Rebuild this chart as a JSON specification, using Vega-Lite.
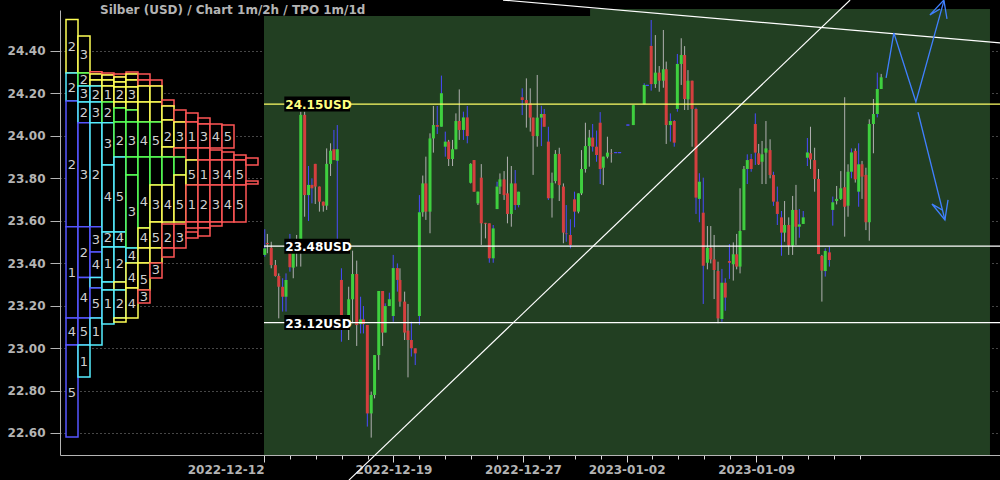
{
"$schema": "https://vega.github.io/schema/vega-lite/v6.json",
"width": 940, "height": 445,
"autosize": {"type": "none"},
"padding": {"left": 60, "top": 10, "right": 0, "bottom": 25},
"background": "black",
"config": {"view": {"stroke": null}},
"title": {"text": "Silber (USD) /  Chart 1m/2h / TPO 1m/1d", "anchor": "start", "frame": "group", "font": "DejaVu Sans", "fontSize": 12, "fontWeight": "bold", "color": "#b4b4b4", "dx": 40, "offset": -21, "zindex": 1},
"datasets": {
"candles": [
{"t":0.03,"o":23.439,"h":23.56,"l":23.431,"c":23.47,"w":"b"},
{"t":0.13,"o":23.495,"h":23.538,"l":23.447,"c":23.49,"w":"g"},
{"t":0.28,"o":23.473,"h":23.501,"l":23.376,"c":23.391,"w":"g"},
{"t":0.44,"o":23.391,"h":23.415,"l":23.337,"c":23.34,"w":"g"},
{"t":0.57,"o":23.34,"h":23.352,"l":23.14,"c":23.289,"w":"g"},
{"t":0.72,"o":23.289,"h":23.329,"l":23.172,"c":23.242,"w":"b"},
{"t":0.85,"o":23.242,"h":23.352,"l":23.172,"c":23.321,"w":"b"},
{"t":1.0,"o":23.45,"h":23.538,"l":23.36,"c":23.381,"w":"b"},
{"t":1.13,"o":23.379,"h":23.501,"l":23.329,"c":23.45,"w":"g"},
{"t":1.26,"o":23.455,"h":23.533,"l":23.384,"c":23.45,"w":"g"},
{"t":1.42,"o":23.509,"h":24.114,"l":23.384,"c":24.099,"w":"g"},
{"t":1.57,"o":24.099,"h":24.114,"l":23.619,"c":23.721,"w":"g"},
{"t":1.72,"o":23.721,"h":23.858,"l":23.599,"c":23.769,"w":"b"},
{"t":1.85,"o":23.769,"h":23.8,"l":23.682,"c":23.753,"w":"b"},
{"t":1.98,"o":23.868,"h":23.868,"l":23.679,"c":23.761,"w":"g"},
{"t":2.14,"o":23.761,"h":23.761,"l":23.643,"c":23.69,"w":"g"},
{"t":2.29,"o":23.69,"h":23.69,"l":23.643,"c":23.671,"w":"g"},
{"t":2.42,"o":23.671,"h":23.941,"l":23.651,"c":23.868,"w":"g"},
{"t":2.57,"o":23.868,"h":23.965,"l":23.811,"c":23.93,"w":"g"},
{"t":2.7,"o":23.937,"h":24.028,"l":23.886,"c":23.886,"w":"b"},
{"t":2.83,"o":23.883,"h":24.051,"l":23.509,"c":23.937,"w":"b"},
{"t":2.99,"o":23.321,"h":23.376,"l":23.03,"c":23.117,"w":"b"},
{"t":3.27,"o":23.117,"h":23.289,"l":23.038,"c":23.23,"w":"g"},
{"t":3.42,"o":23.23,"h":23.459,"l":23.117,"c":23.349,"w":"g"},
{"t":3.58,"o":23.349,"h":23.412,"l":23.01,"c":23.109,"w":"g"},
{"t":3.73,"o":23.113,"h":23.242,"l":23.069,"c":23.135,"w":"b"},
{"t":3.84,"o":23.135,"h":23.198,"l":23.069,"c":23.113,"w":"b"},
{"t":3.99,"o":23.109,"h":23.109,"l":22.63,"c":22.692,"w":"b"},
{"t":4.14,"o":22.692,"h":22.795,"l":22.578,"c":22.779,"w":"g"},
{"t":4.27,"o":22.779,"h":22.967,"l":22.763,"c":22.967,"w":"g"},
{"t":4.43,"o":22.967,"h":23.269,"l":22.897,"c":23.269,"w":"g"},
{"t":4.58,"o":23.269,"h":23.269,"l":23.01,"c":23.073,"w":"g"},
{"t":4.68,"o":23.073,"h":23.211,"l":23.073,"c":23.198,"w":"b"},
{"t":4.84,"o":23.198,"h":23.261,"l":23.198,"c":23.23,"w":"b"},
{"t":4.99,"o":23.151,"h":23.439,"l":23.124,"c":23.377,"w":"b"},
{"t":5.15,"o":23.377,"h":23.399,"l":23.266,"c":23.321,"w":"b"},
{"t":5.25,"o":23.321,"h":23.376,"l":23.195,"c":23.219,"w":"g"},
{"t":5.43,"o":23.219,"h":23.266,"l":23.038,"c":23.073,"w":"g"},
{"t":5.56,"o":23.082,"h":23.208,"l":22.862,"c":23.038,"w":"g"},
{"t":5.69,"o":23.038,"h":23.124,"l":22.96,"c":22.999,"w":"b"},
{"t":5.84,"o":22.999,"h":22.999,"l":22.92,"c":22.975,"w":"b"},
{"t":6.0,"o":23.151,"h":23.721,"l":23.109,"c":23.64,"w":"b"},
{"t":6.13,"o":23.64,"h":23.813,"l":23.619,"c":23.776,"w":"g"},
{"t":6.25,"o":23.776,"h":23.902,"l":23.604,"c":23.643,"w":"g"},
{"t":6.41,"o":23.643,"h":24.012,"l":23.541,"c":23.988,"w":"g"},
{"t":6.54,"o":23.988,"h":24.141,"l":23.921,"c":24.051,"w":"g"},
{"t":6.69,"o":24.051,"h":24.141,"l":24.009,"c":24.043,"w":"b"},
{"t":6.85,"o":24.043,"h":24.284,"l":24.043,"c":24.201,"w":"b"},
{"t":7.0,"o":23.949,"h":24.02,"l":23.902,"c":23.973,"w":"b"},
{"t":7.13,"o":23.973,"h":23.981,"l":23.858,"c":23.891,"w":"g"},
{"t":7.28,"o":23.891,"h":23.981,"l":23.858,"c":23.937,"w":"g"},
{"t":7.41,"o":23.937,"h":24.106,"l":23.937,"c":24.07,"w":"g"},
{"t":7.54,"o":24.07,"h":24.219,"l":23.981,"c":24.028,"w":"g"},
{"t":7.7,"o":24.028,"h":24.114,"l":23.981,"c":24.087,"w":"b"},
{"t":7.85,"o":24.087,"h":24.141,"l":23.965,"c":23.999,"w":"b"},
{"t":7.98,"o":23.779,"h":23.871,"l":23.776,"c":23.868,"w":"g"},
{"t":8.11,"o":23.886,"h":23.886,"l":23.737,"c":23.737,"w":"g"},
{"t":8.26,"o":23.682,"h":23.737,"l":23.674,"c":23.737,"w":"g"},
{"t":8.39,"o":23.803,"h":23.867,"l":23.486,"c":23.588,"w":"g"},
{"t":8.55,"o":23.59,"h":23.59,"l":23.517,"c":23.586,"w":"g"},
{"t":8.7,"o":23.588,"h":23.588,"l":23.402,"c":23.423,"w":"b"},
{"t":8.85,"o":23.423,"h":23.58,"l":23.402,"c":23.564,"w":"b"},
{"t":9.0,"o":23.655,"h":23.784,"l":23.655,"c":23.761,"w":"b"},
{"t":9.11,"o":23.761,"h":23.823,"l":23.726,"c":23.795,"w":"g"},
{"t":9.27,"o":23.795,"h":23.834,"l":23.698,"c":23.721,"w":"g"},
{"t":9.4,"o":23.729,"h":23.902,"l":23.588,"c":23.632,"w":"g"},
{"t":9.55,"o":23.632,"h":23.858,"l":23.572,"c":23.776,"w":"g"},
{"t":9.7,"o":23.776,"h":23.839,"l":23.651,"c":23.674,"w":"b"},
{"t":9.83,"o":23.674,"h":23.737,"l":23.663,"c":23.737,"w":"b"},
{"t":9.97,"o":24.182,"h":24.224,"l":24.098,"c":24.169,"w":"b"},
{"t":10.13,"o":24.169,"h":24.271,"l":24.039,"c":24.153,"w":"g"},
{"t":10.28,"o":24.153,"h":24.224,"l":24.02,"c":24.086,"w":"g"},
{"t":10.39,"o":24.086,"h":24.086,"l":23.816,"c":23.999,"w":"g"},
{"t":10.55,"o":23.999,"h":24.287,"l":23.949,"c":24.086,"w":"g"},
{"t":10.71,"o":24.086,"h":24.142,"l":23.952,"c":24.103,"w":"b"},
{"t":10.82,"o":24.103,"h":24.127,"l":24.043,"c":24.043,"w":"b"},
{"t":10.98,"o":23.973,"h":24.043,"l":23.698,"c":23.706,"w":"b"},
{"t":11.12,"o":23.706,"h":23.827,"l":23.615,"c":23.779,"w":"g"},
{"t":11.25,"o":23.787,"h":23.933,"l":23.776,"c":23.915,"w":"g"},
{"t":11.4,"o":23.915,"h":23.944,"l":23.693,"c":23.768,"w":"g"},
{"t":11.56,"o":23.761,"h":23.776,"l":23.494,"c":23.544,"w":"g"},
{"t":11.67,"o":23.54,"h":23.674,"l":23.501,"c":23.537,"w":"b"},
{"t":11.83,"o":23.533,"h":23.607,"l":23.47,"c":23.486,"w":"b"},
{"t":11.99,"o":23.701,"h":23.737,"l":23.569,"c":23.643,"w":"b"},
{"t":12.14,"o":23.643,"h":23.729,"l":23.635,"c":23.729,"w":"g"},
{"t":12.26,"o":23.729,"h":23.933,"l":23.721,"c":23.844,"w":"g"},
{"t":12.41,"o":23.844,"h":24.062,"l":23.827,"c":23.952,"w":"g"},
{"t":12.56,"o":23.952,"h":24.028,"l":23.855,"c":23.992,"w":"g"},
{"t":12.69,"o":23.992,"h":24.056,"l":23.926,"c":23.949,"w":"b"},
{"t":12.84,"o":23.949,"h":24.025,"l":23.878,"c":23.91,"w":"b"},
{"t":12.98,"o":24.062,"h":24.112,"l":23.773,"c":23.844,"w":"b"},
{"t":13.1,"o":23.85,"h":23.902,"l":23.768,"c":23.902,"w":"g"},
{"t":13.26,"o":23.902,"h":23.996,"l":23.894,"c":23.921,"w":"g"},
{"t":13.41,"o":23.919,"h":23.938,"l":23.874,"c":23.917,"w":"g"},
{"t":13.58,"o":23.921,"h":23.921,"l":23.921,"c":23.921,"w":"b"},
{"t":13.73,"o":23.921,"h":23.921,"l":23.921,"c":23.921,"w":"b"},
{"t":14.05,"o":24.051,"h":24.051,"l":24.051,"c":24.051,"w":"b"},
{"t":14.26,"o":24.051,"h":24.145,"l":24.051,"c":24.145,"w":"g"},
{"t":14.68,"o":24.149,"h":24.248,"l":24.149,"c":24.24,"w":"b"},
{"t":14.8,"o":24.238,"h":24.238,"l":24.238,"c":24.238,"w":"b"},
{"t":14.95,"o":24.424,"h":24.546,"l":24.213,"c":24.244,"w":"b"},
{"t":15.11,"o":24.244,"h":24.475,"l":24.226,"c":24.298,"w":"g"},
{"t":15.26,"o":24.298,"h":24.329,"l":24.208,"c":24.26,"w":"g"},
{"t":15.42,"o":24.26,"h":24.499,"l":24.227,"c":24.314,"w":"g"},
{"t":15.53,"o":24.314,"h":24.35,"l":23.962,"c":24.051,"w":"g"},
{"t":15.69,"o":24.051,"h":24.106,"l":23.973,"c":24.07,"w":"b"},
{"t":15.84,"o":24.07,"h":24.075,"l":23.949,"c":23.968,"w":"b"},
{"t":15.96,"o":24.127,"h":24.386,"l":24.114,"c":24.339,"w":"b"},
{"t":16.11,"o":24.339,"h":24.46,"l":24.24,"c":24.381,"w":"g"},
{"t":16.24,"o":24.381,"h":24.423,"l":24.122,"c":24.174,"w":"g"},
{"t":16.37,"o":24.172,"h":24.31,"l":24.122,"c":24.26,"w":"g"},
{"t":16.53,"o":24.26,"h":24.26,"l":23.949,"c":24.127,"w":"g"},
{"t":16.68,"o":24.127,"h":24.133,"l":23.632,"c":23.709,"w":"b"},
{"t":16.81,"o":23.703,"h":23.824,"l":23.593,"c":23.784,"w":"b"},
{"t":16.96,"o":23.638,"h":23.803,"l":23.208,"c":23.388,"w":"b"},
{"t":17.12,"o":23.402,"h":23.575,"l":23.371,"c":23.473,"w":"g"},
{"t":17.25,"o":23.473,"h":23.575,"l":23.399,"c":23.418,"w":"g"},
{"t":17.38,"o":23.418,"h":23.533,"l":23.231,"c":23.368,"w":"g"},
{"t":17.53,"o":23.363,"h":23.407,"l":23.117,"c":23.14,"w":"g"},
{"t":17.68,"o":23.137,"h":23.373,"l":23.124,"c":23.308,"w":"b"},
{"t":17.81,"o":23.308,"h":23.329,"l":23.176,"c":23.238,"w":"b"},
{"t":17.97,"o":23.41,"h":23.49,"l":23.326,"c":23.402,"w":"b"},
{"t":18.12,"o":23.395,"h":23.498,"l":23.318,"c":23.442,"w":"g"},
{"t":18.25,"o":23.442,"h":23.538,"l":23.371,"c":23.384,"w":"g"},
{"t":18.38,"o":23.384,"h":23.753,"l":23.352,"c":23.552,"w":"g"},
{"t":18.53,"o":23.556,"h":23.858,"l":23.556,"c":23.844,"w":"g"},
{"t":18.66,"o":23.844,"h":23.913,"l":23.773,"c":23.886,"w":"b"},
{"t":18.81,"o":23.891,"h":23.915,"l":23.831,"c":23.844,"w":"b"},
{"t":18.97,"o":24.056,"h":24.106,"l":23.863,"c":23.921,"w":"b"},
{"t":19.1,"o":23.918,"h":23.962,"l":23.863,"c":23.866,"w":"g"},
{"t":19.23,"o":23.878,"h":23.976,"l":23.773,"c":23.913,"w":"g"},
{"t":19.38,"o":23.921,"h":24.07,"l":23.773,"c":23.941,"w":"g"},
{"t":19.54,"o":23.933,"h":23.984,"l":23.8,"c":23.816,"w":"g"},
{"t":19.67,"o":23.816,"h":23.831,"l":23.67,"c":23.69,"w":"b"},
{"t":19.82,"o":23.69,"h":23.761,"l":23.58,"c":23.632,"w":"b"},
{"t":19.98,"o":23.616,"h":23.646,"l":23.435,"c":23.544,"w":"b"},
{"t":20.1,"o":23.544,"h":23.693,"l":23.501,"c":23.58,"w":"g"},
{"t":20.26,"o":23.58,"h":23.616,"l":23.439,"c":23.483,"w":"g"},
{"t":20.41,"o":23.483,"h":23.717,"l":23.439,"c":23.651,"w":"g"},
{"t":20.54,"o":23.651,"h":23.769,"l":23.486,"c":23.572,"w":"g"},
{"t":20.67,"o":23.572,"h":23.655,"l":23.52,"c":23.583,"w":"b"},
{"t":20.82,"o":23.585,"h":23.646,"l":23.585,"c":23.616,"w":"b"},
{"t":20.98,"o":23.897,"h":23.99,"l":23.858,"c":23.922,"w":"b"},
{"t":21.1,"o":23.918,"h":24.043,"l":23.844,"c":23.889,"w":"g"},
{"t":21.26,"o":23.886,"h":23.944,"l":23.737,"c":23.797,"w":"g"},
{"t":21.41,"o":23.797,"h":23.844,"l":23.443,"c":23.443,"w":"g"},
{"t":21.54,"o":23.434,"h":23.439,"l":23.219,"c":23.365,"w":"g"},
{"t":21.67,"o":23.363,"h":23.47,"l":23.337,"c":23.458,"w":"b"},
{"t":21.83,"o":23.451,"h":23.478,"l":23.384,"c":23.415,"w":"b"},
{"t":21.96,"o":23.651,"h":23.714,"l":23.577,"c":23.687,"w":"b"},
{"t":22.11,"o":23.693,"h":23.764,"l":23.677,"c":23.703,"w":"g"},
{"t":22.27,"o":23.703,"h":23.834,"l":23.698,"c":23.753,"w":"g"},
{"t":22.42,"o":23.758,"h":24.182,"l":23.525,"c":23.666,"w":"g"},
{"t":22.55,"o":23.671,"h":23.866,"l":23.619,"c":23.831,"w":"g"},
{"t":22.68,"o":23.831,"h":23.941,"l":23.8,"c":23.922,"w":"b"},
{"t":22.83,"o":23.929,"h":23.941,"l":23.78,"c":23.795,"w":"g"},
{"t":22.96,"o":23.737,"h":23.965,"l":23.666,"c":23.866,"w":"b"},
{"t":23.09,"o":23.866,"h":23.882,"l":23.703,"c":23.808,"w":"g"},
{"t":23.24,"o":23.816,"h":23.85,"l":23.556,"c":23.593,"w":"g"},
{"t":23.37,"o":23.593,"h":24.078,"l":23.506,"c":24.056,"w":"g"},
{"t":23.53,"o":24.056,"h":24.174,"l":23.918,"c":24.103,"w":"g"},
{"t":23.68,"o":24.103,"h":24.298,"l":24.087,"c":24.221,"w":"b"},
{"t":23.83,"o":24.221,"h":24.292,"l":24.221,"c":24.276,"w":"g"}
],
"tpo": [
{"k":0,"a":24.549,"b":24.296,"c":"y"},{"k":0,"a":24.296,"b":24.164,"c":"c"},{"k":0,"a":24.164,"b":23.572,"c":"b"},{"k":0,"a":23.572,"b":23.142,"c":"b"},{"k":0,"a":23.142,"b":23.015,"c":"b"},{"k":0,"a":23.015,"b":22.581,"c":"b"},
{"k":1,"a":24.471,"b":24.296,"c":"y"},{"k":1,"a":24.296,"b":24.235,"c":"g"},{"k":1,"a":24.235,"b":24.16,"c":"c"},{"k":1,"a":24.16,"b":24.062,"c":"c"},{"k":1,"a":24.062,"b":23.572,"c":"b"},{"k":1,"a":23.572,"b":23.332,"c":"b"},{"k":1,"a":23.332,"b":23.142,"c":"b"},{"k":1,"a":23.142,"b":23.015,"c":"b"},{"k":1,"a":23.015,"b":22.864,"c":"c"},
{"k":2,"a":24.302,"b":24.292,"c":"r"},{"k":2,"a":24.292,"b":24.263,"c":"y"},{"k":2,"a":24.263,"b":24.235,"c":"y"},{"k":2,"a":24.235,"b":24.16,"c":"c"},{"k":2,"a":24.16,"b":24.062,"c":"c"},{"k":2,"a":24.062,"b":23.572,"c":"c"},{"k":2,"a":23.572,"b":23.453,"c":"b"},{"k":2,"a":23.453,"b":23.332,"c":"b"},{"k":2,"a":23.332,"b":23.283,"c":"c"},{"k":2,"a":23.283,"b":23.142,"c":"b"},{"k":2,"a":23.142,"b":23.015,"c":"c"},
{"k":3,"a":24.296,"b":24.287,"c":"r"},{"k":3,"a":24.287,"b":24.263,"c":"y"},{"k":3,"a":24.263,"b":24.235,"c":"y"},{"k":3,"a":24.235,"b":24.16,"c":"y"},{"k":3,"a":24.16,"b":24.062,"c":"g"},{"k":3,"a":24.062,"b":23.863,"c":"c"},{"k":3,"a":23.863,"b":23.547,"c":"c"},{"k":3,"a":23.547,"b":23.476,"c":"c"},{"k":3,"a":23.476,"b":23.311,"c":"c"},{"k":3,"a":23.311,"b":23.274,"c":"c"},{"k":3,"a":23.274,"b":23.113,"c":"c"},
{"k":4,"a":24.292,"b":24.277,"c":"r"},{"k":4,"a":24.277,"b":24.254,"c":"y"},{"k":4,"a":24.254,"b":24.23,"c":"y"},{"k":4,"a":24.23,"b":24.16,"c":"y"},{"k":4,"a":24.16,"b":24.131,"c":"y"},{"k":4,"a":24.131,"b":24.065,"c":"g"},{"k":4,"a":24.065,"b":23.9,"c":"g"},{"k":4,"a":23.9,"b":23.547,"c":"c"},{"k":4,"a":23.547,"b":23.476,"c":"c"},{"k":4,"a":23.476,"b":23.311,"c":"c"},{"k":4,"a":23.311,"b":23.274,"c":"y"},{"k":4,"a":23.274,"b":23.142,"c":"c"},{"k":4,"a":23.142,"b":23.123,"c":"y"},
{"k":5,"a":24.301,"b":24.292,"c":"r"},{"k":5,"a":24.292,"b":24.263,"c":"y"},{"k":5,"a":24.263,"b":24.23,"c":"y"},{"k":5,"a":24.23,"b":24.16,"c":"y"},{"k":5,"a":24.16,"b":24.122,"c":"y"},{"k":5,"a":24.122,"b":24.065,"c":"g"},{"k":5,"a":24.065,"b":23.9,"c":"g"},{"k":5,"a":23.9,"b":23.816,"c":"g"},{"k":5,"a":23.816,"b":23.472,"c":"g"},{"k":5,"a":23.472,"b":23.401,"c":"c"},{"k":5,"a":23.401,"b":23.283,"c":"y"},{"k":5,"a":23.283,"b":23.142,"c":"y"},
{"k":6,"a":24.292,"b":24.263,"c":"r"},{"k":6,"a":24.263,"b":24.235,"c":"r"},{"k":6,"a":24.235,"b":24.16,"c":"y"},{"k":6,"a":24.16,"b":24.065,"c":"y"},{"k":6,"a":24.065,"b":23.9,"c":"g"},{"k":6,"a":23.9,"b":23.566,"c":"g"},{"k":6,"a":23.566,"b":23.472,"c":"y"},{"k":6,"a":23.472,"b":23.401,"c":"y"},{"k":6,"a":23.401,"b":23.274,"c":"y"},{"k":6,"a":23.274,"b":23.212,"c":"r"},
{"k":7,"a":24.263,"b":24.235,"c":"r"},{"k":7,"a":24.235,"b":24.16,"c":"y"},{"k":7,"a":24.16,"b":24.065,"c":"y"},{"k":7,"a":24.065,"b":23.9,"c":"g"},{"k":7,"a":23.9,"b":23.769,"c":"g"},{"k":7,"a":23.769,"b":23.594,"c":"y"},{"k":7,"a":23.594,"b":23.472,"c":"y"},{"k":7,"a":23.472,"b":23.401,"c":"y"},{"k":7,"a":23.401,"b":23.33,"c":"r"},
{"k":8,"a":24.169,"b":24.141,"c":"r"},{"k":8,"a":24.141,"b":24.075,"c":"y"},{"k":8,"a":24.075,"b":23.948,"c":"y"},{"k":8,"a":23.948,"b":23.9,"c":"y"},{"k":8,"a":23.9,"b":23.769,"c":"g"},{"k":8,"a":23.769,"b":23.594,"c":"y"},{"k":8,"a":23.585,"b":23.472,"c":"r"},{"k":8,"a":23.472,"b":23.429,"c":"r"},
{"k":9,"a":24.122,"b":24.065,"c":"r"},{"k":9,"a":24.065,"b":23.943,"c":"y"},{"k":9,"a":23.943,"b":23.9,"c":"r"},{"k":9,"a":23.9,"b":23.816,"c":"g"},{"k":9,"a":23.816,"b":23.594,"c":"y"},{"k":9,"a":23.585,"b":23.472,"c":"r"},
{"k":10,"a":24.108,"b":24.065,"c":"r"},{"k":10,"a":24.065,"b":23.943,"c":"r"},{"k":10,"a":23.943,"b":23.886,"c":"r"},{"k":10,"a":23.886,"b":23.769,"c":"y"},{"k":10,"a":23.769,"b":23.594,"c":"r"},{"k":10,"a":23.594,"b":23.566,"c":"r"},{"k":10,"a":23.547,"b":23.519,"c":"r"},
{"k":11,"a":24.084,"b":24.056,"c":"r"},{"k":11,"a":24.056,"b":23.943,"c":"r"},{"k":11,"a":23.943,"b":23.886,"c":"r"},{"k":11,"a":23.886,"b":23.769,"c":"r"},{"k":11,"a":23.769,"b":23.594,"c":"r"},{"k":11,"a":23.594,"b":23.566,"c":"r"},{"k":11,"a":23.566,"b":23.528,"c":"r"},
{"k":12,"a":24.056,"b":23.943,"c":"r"},{"k":12,"a":23.933,"b":23.886,"c":"r"},{"k":12,"a":23.886,"b":23.769,"c":"r"},{"k":12,"a":23.769,"b":23.594,"c":"r"},{"k":12,"a":23.594,"b":23.575,"c":"r"},
{"k":13,"a":24.051,"b":23.943,"c":"r"},{"k":13,"a":23.924,"b":23.886,"c":"r"},{"k":13,"a":23.886,"b":23.769,"c":"r"},{"k":13,"a":23.769,"b":23.594,"c":"r"},
{"k":14,"a":23.91,"b":23.886,"c":"r"},{"k":14,"a":23.886,"b":23.769,"c":"r"},{"k":14,"a":23.769,"b":23.594,"c":"r"},
{"k":15,"a":23.896,"b":23.863,"c":"r"},{"k":15,"a":23.787,"b":23.773,"c":"r"}
],
"tpol": [
{"k":0,"p":24.419,"d":"2"},{"k":0,"p":24.226,"d":"2"},{"k":0,"p":23.863,"d":"2"},{"k":0,"p":23.354,"d":"1"},{"k":0,"p":23.076,"d":"4"},{"k":0,"p":22.788,"d":"5"},
{"k":1,"p":24.381,"d":"3"},{"k":1,"p":24.263,"d":"2"},{"k":1,"p":24.197,"d":"3"},{"k":1,"p":24.108,"d":"2"},{"k":1,"p":23.816,"d":"3"},{"k":1,"p":23.448,"d":"2"},{"k":1,"p":23.236,"d":"4"},{"k":1,"p":23.076,"d":"5"},{"k":1,"p":22.934,"d":"1"},
{"k":2,"p":24.193,"d":"2"},{"k":2,"p":24.108,"d":"3"},{"k":2,"p":23.816,"d":"2"},{"k":2,"p":23.509,"d":"3"},{"k":2,"p":23.391,"d":"4"},{"k":2,"p":23.208,"d":"5"},{"k":2,"p":23.076,"d":"1"},
{"k":3,"p":24.193,"d":"1"},{"k":3,"p":24.108,"d":"2"},{"k":3,"p":23.962,"d":"3"},{"k":3,"p":23.712,"d":"4"},{"k":3,"p":23.519,"d":"2"},{"k":3,"p":23.396,"d":"1"},{"k":3,"p":23.208,"d":"1"},
{"k":4,"p":24.193,"d":"2"},{"k":4,"p":23.976,"d":"2"},{"k":4,"p":23.712,"d":"5"},{"k":4,"p":23.519,"d":"4"},{"k":4,"p":23.396,"d":"2"},{"k":4,"p":23.208,"d":"2"},
{"k":5,"p":24.193,"d":"3"},{"k":5,"p":23.976,"d":"3"},{"k":5,"p":23.641,"d":"3"},{"k":5,"p":23.434,"d":"4"},{"k":5,"p":23.33,"d":"4"},{"k":5,"p":23.208,"d":"4"},
{"k":6,"p":23.976,"d":"4"},{"k":6,"p":23.688,"d":"4"},{"k":6,"p":23.519,"d":"4"},{"k":6,"p":23.321,"d":"5"},{"k":6,"p":23.241,"d":"3"},
{"k":7,"p":23.976,"d":"5"},{"k":7,"p":23.674,"d":"3"},{"k":7,"p":23.519,"d":"5"},{"k":7,"p":23.368,"d":"3"},
{"k":8,"p":23.995,"d":"2"},{"k":8,"p":23.674,"d":"4"},{"k":8,"p":23.519,"d":"2"},
{"k":9,"p":23.995,"d":"3"},{"k":9,"p":23.674,"d":"5"},{"k":9,"p":23.519,"d":"3"},
{"k":10,"p":23.995,"d":"1"},{"k":10,"p":23.816,"d":"5"},{"k":10,"p":23.674,"d":"1"},
{"k":11,"p":23.995,"d":"3"},{"k":11,"p":23.816,"d":"1"},{"k":11,"p":23.674,"d":"2"},
{"k":12,"p":23.995,"d":"4"},{"k":12,"p":23.816,"d":"3"},{"k":12,"p":23.674,"d":"3"},
{"k":13,"p":23.995,"d":"5"},{"k":13,"p":23.816,"d":"4"},{"k":13,"p":23.674,"d":"4"},
{"k":14,"p":23.816,"d":"5"},{"k":14,"p":23.674,"d":"5"}
],
"levels": [
{"p":24.15,"lab":"24.15USD","k":"y"},
{"p":23.48,"lab":"23.48USD","k":"w"},
{"p":23.12,"lab":"23.12USD","k":"w"}
],
"white": [
{"g":"d","i":0,"t":3.28,"v":22.378},{"g":"d","i":1,"t":22.63,"v":24.64},
{"g":"t","i":0,"t":9.23,"v":24.64},{"g":"t","i":1,"t":28.42,"v":24.438}
],
"blue": [
{"g":"a","i":0,"t":24.02,"v":24.273},{"g":"a","i":1,"t":24.32,"v":24.485},{"g":"a","i":2,"t":25.17,"v":24.16},{"g":"a","i":3,"t":26.25,"v":24.636},
{"g":"ah","i":0,"t":26.37,"v":24.551},{"g":"ah","i":1,"t":26.25,"v":24.64},{"g":"ah","i":2,"t":25.71,"v":24.57},{"g":"ah","i":3,"t":26.1,"v":24.598},
{"g":"b","i":0,"t":25.25,"v":24.112},{"g":"b","i":1,"t":26.29,"v":23.604},
{"g":"bh","i":0,"t":26.41,"v":23.698},{"g":"bh","i":1,"t":26.29,"v":23.604},{"g":"bh","i":2,"t":25.79,"v":23.679},{"g":"bh","i":3,"t":26.18,"v":23.651}
]
},
"layer": [
{
"layer": [
{"data": {"values": [{}]}, "mark": {"type": "rect", "color": "#223f22"},
 "encoding": {"x": {"datum": 0, "type": "quantitative"}, "x2": {"datum": 28.03}, "y": {"datum": 22.4961, "type": "quantitative"}, "y2": {"datum": 24.598}}},
{"data": {"values": [{}]}, "mark": {"type": "rect", "color": "black"},
 "encoding": {"x": {"datum": 0, "type": "quantitative"}, "x2": {"datum": 12.59}, "y": {"datum": 24.565, "type": "quantitative"}, "y2": {"datum": 24.66}}},
{"data": {"name": "candles"}, "mark": {"type": "rule", "strokeWidth": 1},
 "encoding": {
  "x": {"field": "t", "type": "quantitative", "scale": {"domain": [-7.876, 28.417], "nice": false, "zero": false, "padding": 0},
   "axis": {"title": null, "values": [0,1,2,3,4,5,6,7,8,9,10,11,12,13,14,15,16,17,18,19,20,21,22,23],
    "labelExpr": "datum.value==0?'2022-12-12':datum.value==5?'2022-12-19':datum.value==10?'2022-12-27':datum.value==14?'2023-01-02':datum.value==19?'2023-01-09':''",
    "labelAlign": {"condition": {"test": "datum.value==0", "value": "right"}, "value": "center"},
    "labelFont": "DejaVu Sans", "labelFontWeight": "bold", "labelFontSize": 12, "labelColor": "#b4b4b4",
    "labelPadding": 2, "labelOverlap": false, "labelBound": false, "labelFlush": false,
    "tickColor": "#d8d8d8",
    "tickSize": {"condition": {"test": "indexof([0,5,10,14,19], datum.value) >= 0", "value": 7}, "value": 4},
    "domainColor": "#b4b4b4", "grid": false}},
  "y": {"field": "l", "type": "quantitative", "scale": {"domain": [22.4961, 24.5932], "nice": false, "zero": false, "padding": 0},
   "axis": {"title": null, "values": [22.6,22.7,22.8,22.9,23.0,23.1,23.2,23.3,23.4,23.5,23.6,23.7,23.8,23.9,24.0,24.1,24.2,24.3,24.4,24.5],
    "labelExpr": "round(datum.value*10)%2==0 ? format(datum.value,'.2f') : ''",
    "labelFont": "DejaVu Sans", "labelFontWeight": "bold", "labelFontSize": 12, "labelColor": "#b4b4b4",
    "labelPadding": 5, "tickColor": "#b4b4b4",
    "tickSize": {"condition": {"test": "round(datum.value*10)%2==1", "value": 5}, "value": 10},
    "domainColor": "#b4b4b4", "grid": true, "gridDash": [1,3],
    "gridColor": {"condition": {"test": "round(datum.value*10)%2==1", "value": "transparent"}, "value": "#8c8c8c"}}},
  "y2": {"field": "h"},
  "color": {"condition": {"test": "datum.w == 'b'", "value": "#4a4aff"}, "value": "#b0b0b0"}}},
{"data": {"name": "candles"}, "mark": {"type": "bar", "width": 3, "strokeWidth": 1},
 "encoding": {
  "x": {"field": "t", "type": "quantitative"},
  "y": {"field": "o", "type": "quantitative"},
  "y2": {"field": "c"},
  "color": {"condition": [{"test": "datum.c == datum.o", "value": "#4a4aff"}, {"test": "datum.c > datum.o", "value": "#3fcf3f"}], "value": "#d43f3f"},
  "stroke": {"condition": {"test": "datum.c == datum.o", "value": "#4a4aff"}, "value": "transparent"}}},
{"data": {"name": "levels"}, "mark": {"type": "rule", "strokeWidth": 1.3},
 "encoding": {"x": {"datum": 0, "type": "quantitative"}, "x2": {"datum": 28.417}, "y": {"field": "p", "type": "quantitative"},
  "color": {"condition": {"test": "datum.k == 'y'", "value": "#ffff66"}, "value": "#ffffff"}}},
{"data": {"name": "levels"}, "mark": {"type": "bar", "color": "black", "height": 15},
 "encoding": {"x": {"datum": 0.784, "type": "quantitative"}, "x2": {"datum": 3.32}, "y": {"field": "p", "type": "quantitative"}}},
{"data": {"name": "levels"}, "mark": {"type": "text", "align": "left", "baseline": "middle", "font": "DejaVu Sans", "fontWeight": "bold", "fontSize": 12, "dx": 1, "dy": 1},
 "encoding": {"x": {"datum": 0.784, "type": "quantitative"}, "y": {"field": "p", "type": "quantitative"}, "text": {"field": "lab"},
  "color": {"condition": {"test": "datum.k == 'y'", "value": "#ffff80"}, "value": "#ffffff"}}},
{"data": {"name": "white"}, "mark": {"type": "line", "color": "white", "strokeWidth": 1.2},
 "encoding": {"x": {"field": "t", "type": "quantitative"}, "y": {"field": "v", "type": "quantitative"}, "detail": {"field": "g"}, "order": {"field": "i"}}},
{"data": {"name": "blue"}, "mark": {"type": "line", "color": "#4080ff", "strokeWidth": 1.3},
 "encoding": {"x": {"field": "t", "type": "quantitative"}, "y": {"field": "v", "type": "quantitative"}, "detail": {"field": "g"}, "order": {"field": "i"}}}
]
},
{
"layer": [
{"data": {"name": "tpo"}, "mark": {"type": "bar", "width": 12, "fill": "black", "strokeWidth": 1.5},
 "encoding": {
  "x": {"field": "k", "type": "quantitative", "scale": {"domain": [-1, 77.333], "nice": false, "zero": false, "padding": 0}, "axis": null},
  "y": {"field": "a", "type": "quantitative"},
  "y2": {"field": "b"},
  "stroke": {"field": "c", "type": "nominal", "scale": {"domain": ["b","c","g","y","r"], "range": ["#5555ff","#55eeff","#55ff55","#ffff55","#ff5555"]}, "legend": null}}},
{"data": {"name": "tpol"}, "mark": {"type": "text", "font": "DejaVu Sans", "fontSize": 13, "color": "#cfcfcf", "baseline": "middle", "align": "center"},
 "encoding": {
  "x": {"field": "k", "type": "quantitative", "axis": null},
  "y": {"field": "p", "type": "quantitative"},
  "text": {"field": "d"}}}
]
}
],
"resolve": {"scale": {"x": "independent"}}
}
